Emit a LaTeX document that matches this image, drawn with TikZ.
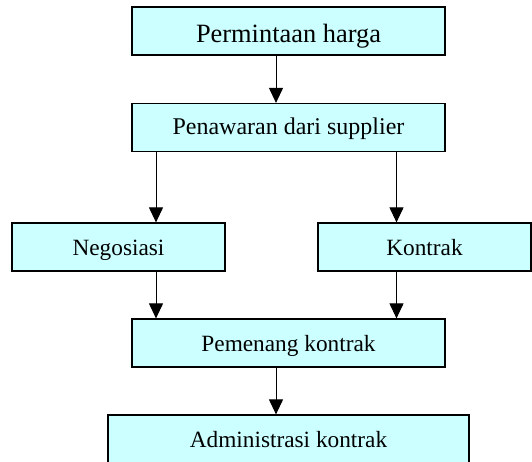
\documentclass[tikz,border=0pt]{standalone}
\usepackage{fontspec}
\setmainfont{Liberation Serif}
\usepackage{tikz}
\usetikzlibrary{arrows.meta}
\definecolor{boxfill}{HTML}{CCFFFF}
\tikzset{box/.style={draw, line width=1.2pt, fill=boxfill, inner sep=0pt,
    minimum height=48pt, text height=19pt, text depth=2pt,
    font=\fontsize{23.3}{28}\selectfont},
  arr/.style={line width=1pt, -{Triangle[length=15pt,width=14pt]}}}

\begin{document}
\begin{tikzpicture}[x=1pt,y=-1pt]
\useasboundingbox (0,0) rectangle (532,462);
% boxes
\node[box, minimum width=313pt, text height=25pt, text depth=1.6pt,
  font=\fontsize{26.4}{30}\selectfont] (perm) at (288.5,31) {Permintaan harga};
\node[box, minimum width=313pt, text height=17pt,
  font=\fontsize{24}{28}\selectfont] (penaw) at (288.5,127.5) {Penawaran dari supplier};
\node[box, minimum width=213pt] (nego) at (118.5,247) {Negosiasi};
\node[box, minimum width=213pt] (kontrak) at (424.5,247) {Kontrak};
\node[box, minimum width=313pt] (menang) at (288.5,343) {Pemenang kontrak};
\node[box, minimum width=361pt] (admin) at (288.5,439) {Administrasi kontrak};
% arrow columns
\coordinate (kiri) at (156,0);
\coordinate (tengah) at (276,0);
\coordinate (kanan) at (396.5,0);
\draw[arr] (perm.south -| tengah) -- (penaw.north -| tengah);
\draw[arr] (penaw.south -| kiri) -- (nego.north -| kiri);
\draw[arr] (penaw.south -| kanan) -- (kontrak.north -| kanan);
\draw[arr] (nego.south -| kiri) -- (menang.north -| kiri);
\draw[arr] (kontrak.south -| kanan) -- (menang.north -| kanan);
\draw[arr] (menang.south -| tengah) -- (admin.north -| tengah);
\end{tikzpicture}
\end{document}
